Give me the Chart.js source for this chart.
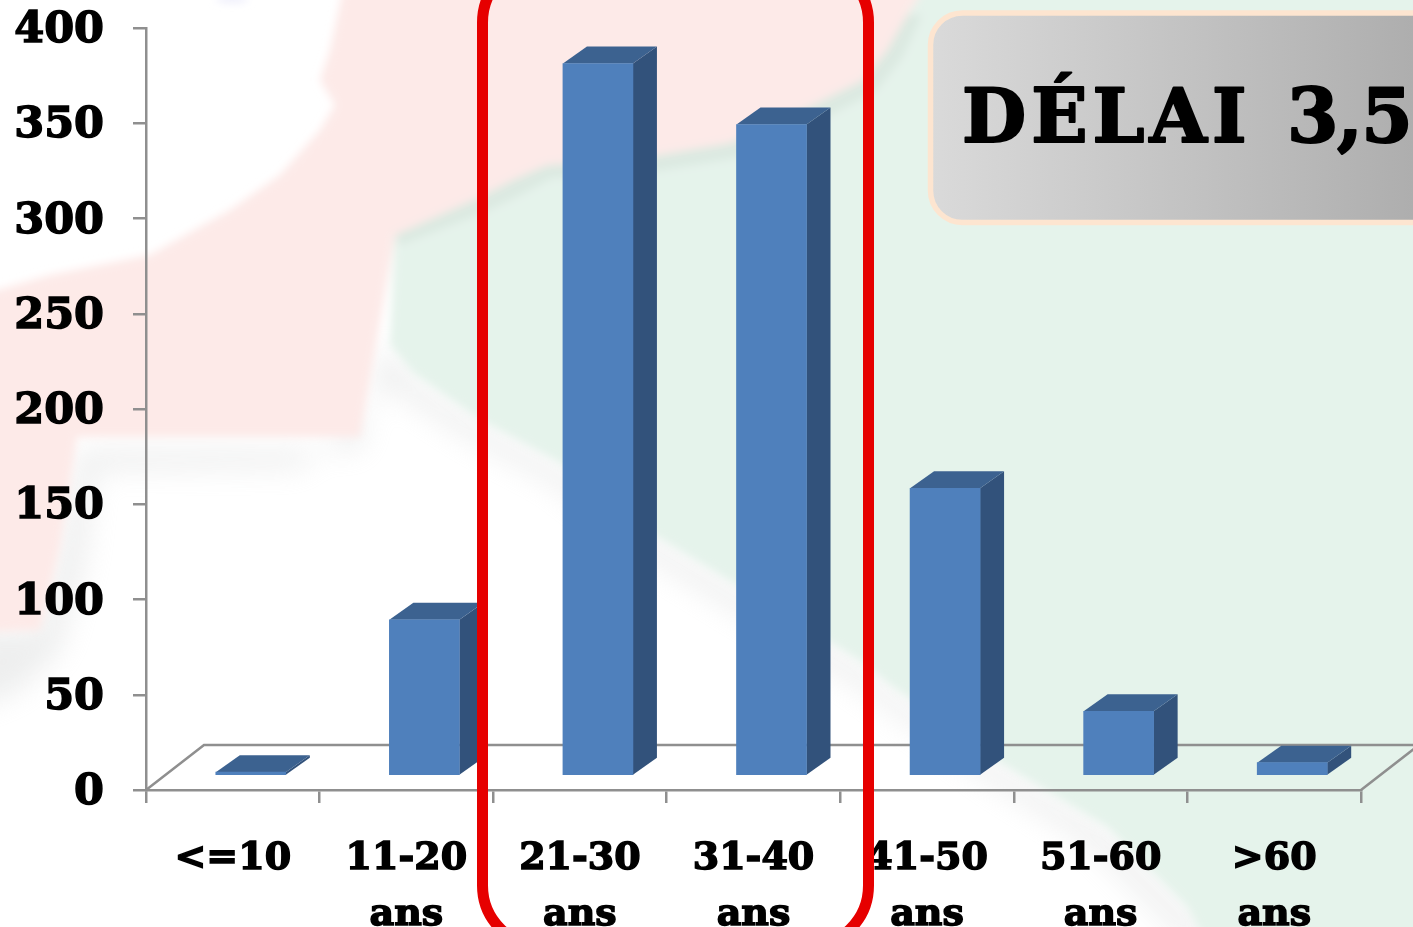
<!DOCTYPE html>
<html lang="fr">
<head>
<meta charset="utf-8">
<title>Délai par tranche d'âge</title>
<script src="https://cdn.jsdelivr.net/npm/chart.js@4/dist/chart.umd.min.js"></script>
<style>
  html, body { margin: 0; padding: 0; background: #fff; overflow: hidden; }
  #stage { position: relative; width: 1413px; height: 927px; overflow: hidden; }
  #backdrop { position: absolute; inset: 0; }
  #chart { position: absolute; left: 0; top: 0; }
</style>
</head>
<body>
<div id="stage">
  <svg id="backdrop" width="1413" height="927" viewBox="0 0 1413 927">
    <defs>
      <filter id="soft" x="-5%" y="-5%" width="110%" height="110%"><feGaussianBlur stdDeviation="4"/></filter>
      <filter id="fade" x="-30%" y="-30%" width="160%" height="160%"><feGaussianBlur stdDeviation="14"/></filter>
    </defs>
    <!-- soft grey edges under the coloured map -->
    <g filter="url(#fade)" fill="#d4d6d6" opacity="0.4">
      <path d="M-30 630 L40 630 L60 547 L80 450 L360 450 L385 340 L400 380 L300 468 L95 470 L85 560 L60 650 L20 690 L-30 710 Z"/>
      <path d="M385 345 L413 380 L480 425 L560 468 L657 542 L733 588 L863 668 L887 688 L1000 768 L1107 832 L1187 912 L1215 940 L1190 945 L1090 845 L990 782 L850 682 L720 602 L645 556 L550 482 L470 440 L400 395 Z"/>
    </g>
    <g filter="url(#soft)">
      <path fill="#e5f3eb" d="M390 345 L395 235 L480 197 L513 180 L547 165 L647 157 L730 143 L813 105 L863 80 L887 50 L907 15 L930 -20 L1450 -20 L1450 960 L1215 960 L1187 907 L1107 827 L1000 763 L887 683 L863 663 L733 583 L657 537 L560 463 L480 420 L413 373 Z"/>
      <path fill="#d9e6df" opacity="0.8" d="M395 235 L480 197 L513 180 L547 165 L647 157 L730 143 L813 105 L863 80 L887 50 L907 15 L922 15 L902 58 L875 92 L820 120 L735 158 L650 172 L552 178 L520 195 L485 212 L400 245 Z"/>
      <path fill="#fdeae8" d="M345 -20 L330 50 L320 80 L335 105 L320 130 L280 175 L230 210 L150 255 L50 275 L-20 295 L-20 632 L40 630 L60 547 L77 437 L360 437 L395 235 L480 197 L513 180 L547 165 L647 157 L730 143 L813 105 L863 80 L887 50 L907 15 L930 -20 Z"/>
      <ellipse cx="232" cy="-1" rx="16" ry="3" fill="#e8e8fa"/>
    </g>
  </svg>
  <canvas id="chart" width="1413" height="927"></canvas>
</div>
<script>
const categories = ['<=10', ['11-20', 'ans'], ['21-30', 'ans'], ['31-40', 'ans'], ['41-50', 'ans'], ['51-60', 'ans'], ['>60', 'ans']];
const cases = [2, 82, 374, 342, 151, 34, 7];
const yTicks = [0, 50, 100, 150, 200, 250, 300, 350, 400];
const noteWords = ['DÉLAI', '3,5'];

const axisGrey = '#8f8f8f';
const frontColor = '#4f80bc';
const sideColor = '#32527b';
const topColor = '#3c6290';

// fake 3D: the columns sit part way into the floor, the floor recedes up and to the right
const floorDepth = { x: 58, y: 45 };
const barShift = { x: 18, y: 14 };
const barDepth = { x: 24, y: 17 };

function polygon(ctx, pts, fill) {
    ctx.beginPath();
    pts.forEach((p, i) => i ? ctx.lineTo(p[0], p[1]) : ctx.moveTo(p[0], p[1]));
    ctx.closePath();
    ctx.fillStyle = fill;
    ctx.fill();
}

function roundedBox(ctx, x, y, w, h, r) {
    ctx.beginPath();
    ctx.roundRect(x, y, w, h, r);
}

function heavyText(ctx, text, x, y, spacing) {
    ctx.letterSpacing = spacing;
    ctx.fillText(text, x, y);
    ctx.strokeText(text, x, y);
}

const depthBars = {
    id: 'depthBars',
    beforeDraw(chart) {
        // digits sit high in the line box, nudge them level with their tick marks
        chart.scales.y.getLabelItems().forEach(item => { item.options.translation[1] += 3; });
    },
    beforeDatasetsDraw(chart) {
        const { ctx, chartArea } = chart;
        // floor outline
        ctx.save();
        ctx.strokeStyle = axisGrey;
        ctx.lineWidth = 2.5;
        ctx.beginPath();
        ctx.moveTo(chartArea.left, chartArea.bottom);
        ctx.lineTo(chartArea.left + floorDepth.x, chartArea.bottom - floorDepth.y);
        ctx.lineTo(chartArea.right + floorDepth.x, chartArea.bottom - floorDepth.y);
        ctx.lineTo(chartArea.right, chartArea.bottom);
        ctx.stroke();

        chart.getDatasetMeta(0).data.forEach(bar => {
            const left = bar.x - bar.width / 2 + barShift.x;
            const right = left + bar.width;
            const top = bar.y - barShift.y;
            const base = bar.base - barShift.y;
            polygon(ctx, [[right, top], [right + barDepth.x, top - barDepth.y], [right + barDepth.x, base - barDepth.y], [right, base]], sideColor);
            polygon(ctx, [[left, top], [left + barDepth.x, top - barDepth.y], [right + barDepth.x, top - barDepth.y], [right, top]], topColor);
        });
        ctx.restore();
        // the library draws the front faces, moved onto the floor
        ctx.save();
        ctx.translate(barShift.x, -barShift.y);
    },
    afterDatasetsDraw(chart) {
        chart.ctx.restore();
    },
    afterDraw(chart) {
        const { ctx } = chart;
        ctx.save();

        // highlight around the two busiest age groups
        ctx.strokeStyle = '#e60000';
        ctx.lineWidth = 11;
        roundedBox(ctx, 482.5, -38.5, 386, 985, 61);
        ctx.stroke();

        // note box, runs off the right edge
        const grad = ctx.createLinearGradient(930, 0, 1413, 0);
        grad.addColorStop(0, '#dadada');
        grad.addColorStop(1, '#aeaeae');
        roundedBox(ctx, 930.5, 13, 520, 209.5, 32);
        ctx.fillStyle = grad;
        ctx.fill();
        ctx.strokeStyle = '#fde5d0';
        ctx.lineWidth = 5.5;
        ctx.stroke();

        ctx.fillStyle = '#000';
        ctx.strokeStyle = '#000';
        ctx.lineWidth = 2;
        ctx.lineJoin = 'round';
        ctx.font = 'bold 74px "DejaVu Serif"';
        ctx.textAlign = 'left';
        ctx.textBaseline = 'alphabetic';
        heavyText(ctx, noteWords[0], 962, 142, '5px');
        heavyText(ctx, noteWords[1], 1287, 142, '-1.5px');
        ctx.restore();
    }
};

new Chart(document.getElementById('chart'), {
    type: 'bar',
    data: {
        labels: categories,
        datasets: [{
            data: cases,
            backgroundColor: frontColor,
            barThickness: 70,
            clip: false
        }]
    },
    options: {
        responsive: false,
        animation: false,
        layout: { padding: { top: 28, right: 52, left: 0, bottom: 0 } },
        plugins: { legend: { display: false }, tooltip: { enabled: false }, title: { display: false } },
        scales: {
            x: {
                grid: { drawOnChartArea: false, color: axisGrey, lineWidth: 2.5, tickLength: 13 },
                border: { color: axisGrey, width: 2.5 },
                ticks: {
                    color: '#000',
                    padding: 28,
                    maxRotation: 0,
                    autoSkip: false,
                    textStrokeColor: '#000',
                    textStrokeWidth: 1.5,
                    font: { family: '"DejaVu Serif"', weight: 'bold', size: 38, lineHeight: 1.47 }
                },
                afterFit(scale) {
                    scale.height = 137;
                    scale.paddingLeft = 0;
                    scale.paddingRight = 0;
                }
            },
            y: {
                min: 0,
                max: 400,
                afterBuildTicks(scale) { scale.ticks = yTicks.map(value => ({ value })); },
                grid: { drawOnChartArea: false, color: axisGrey, lineWidth: 2.5, tickLength: 13 },
                border: { color: axisGrey, width: 2.5 },
                ticks: {
                    color: '#000',
                    padding: 29,
                    textStrokeColor: '#000',
                    textStrokeWidth: 1.5,
                    font: { family: '"DejaVu Serif"', weight: 'bold', size: 43 }
                },
                afterFit(scale) {
                    scale.width = 146;
                    scale.paddingTop = 0;
                    scale.paddingBottom = 0;
                }
            }
        }
    },
    plugins: [depthBars]
});
</script>
</body>
</html>
